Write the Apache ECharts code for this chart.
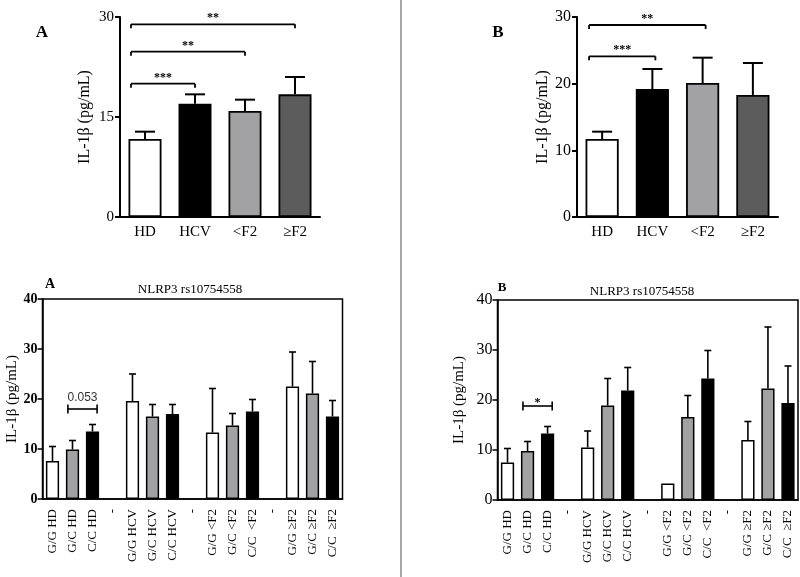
<!DOCTYPE html>
<html><head><meta charset="utf-8">
<script src="https://cdn.jsdelivr.net/npm/echarts@6/dist/echarts.min.js"></script>
<style>html,body{margin:0;padding:0;background:#fff}#c{width:800px;height:577px}</style>
</head><body><div id="c"></div>
<script>
// ---------- data ----------
const topCats = ['HD', 'HCV', '<F2', '≥F2'];
const topAMeans = [11.7, 17.0, 15.9, 18.4];
const topASem   = [1.1, 1.4, 1.7, 2.6];
const topBMeans = [11.7, 19.2, 20.1, 18.3];
const topBSem   = [1.1, 3.0, 3.8, 4.8];
const topABrackets = [[0, 1, 20.0, '***'], [0, 2, 24.8, '**'], [0, 3, 28.9, '**']];
const topBBrackets = [[0, 1, 24.1, '***'], [0, 2, 28.8, '**']];

const botCats = ['G/G HD', 'G/C HD', 'C/C HD', '-',
  'G/G HCV', 'G/C HCV', 'C/C HCV', '-',
  'G/G <F2', 'G/C <F2', 'C/C  <F2', '-',
  'G/G ≥F2', 'G/C ≥F2', 'C/C  ≥F2'];
const botGeno = ['GG', 'GC', 'CC', null, 'GG', 'GC', 'CC', null, 'GG', 'GC', 'CC', null, 'GG', 'GC', 'CC'];
const botAMeans = [7.6, 9.9, 13.5, null, 19.6, 16.5, 17.0, null, 13.3, 14.7, 17.5, null, 22.5, 21.1, 16.5];
const botASem   = [2.9, 1.8, 1.4, null, 5.4, 2.4, 1.9, null, 8.8, 2.4, 2.4, null, 6.9, 6.4, 3.2];
const botBMeans = [7.5, 9.8, 13.3, null, 10.5, 18.9, 21.9, null, 3.3, 16.6, 24.3, null, 12.0, 22.3, 19.4];
const botBSem   = [2.8, 1.9, 1.4, null, 3.3, 5.4, 4.6, null, 0, 4.3, 5.6, null, 3.7, 12.3, 7.4];
const botABrackets = [[1, 2, 18.0, '0.053']];
const botBBrackets = [[1, 2, 18.8, '*']];

// ---------- styles ----------
const SERIF = '"Liberation Serif", "Times New Roman", serif';
const topColors = ['#ffffff', '#000000', '#a2a2a4', '#5c5c5c'];
const genoColors = { GG: '#ffffff', GC: '#a2a2a4', CC: '#000000' };

function barData(means, colorOf) {
  return means.map((m, i) => m == null ? '-' : { value: m, itemStyle: { color: colorOf(i) } });
}
function errData(means, sems) {
  const out = [];
  means.forEach((m, i) => { if (m != null && sems[i]) out.push([i, m, sems[i]]); });
  return out;
}
function errRender(capW, lw) {
  return function (params, api) {
    const x = api.value(0), m = api.value(1), s = api.value(2);
    const p0 = api.coord([x, m]), p1 = api.coord([x, m + s]);
    const st = { stroke: '#000', lineWidth: lw };
    return { type: 'group', children: [
      { type: 'line', shape: { x1: p0[0], y1: p0[1], x2: p1[0], y2: p1[1] }, style: st },
      { type: 'line', shape: { x1: p1[0] - capW / 2, y1: p1[1], x2: p1[0] + capW / 2, y2: p1[1] }, style: st }
    ] };
  };
}
function bracketRender(list, o) {
  return function (params, api) {
    const b = list[params.dataIndex];
    const band = api.size([1, 0])[0];
    const a = api.coord([b[0], b[2]]), c = api.coord([b[1], b[2]]);
    const x1 = a[0] + o.startOff * band, x2 = c[0] + o.endOff * band, y = a[1];
    const st = { stroke: '#000', lineWidth: o.lw };
    return { type: 'group', children: [
      { type: 'line', shape: { x1: x1, y1: y, x2: x2, y2: y }, style: st },
      { type: 'line', shape: { x1: x1, y1: y - o.up, x2: x1, y2: y + o.down }, style: st },
      { type: 'line', shape: { x1: x2, y1: y - o.up, x2: x2, y2: y + o.down }, style: st },
      { type: 'text', style: { x: (x1 + x2) / 2, y: y + o.labelDy, text: b[3], font: o.font,
        fill: o.color, align: 'center', verticalAlign: 'middle', textAlign: 'center', textVerticalAlign: 'middle' } }
    ] };
  };
}

const grids = [
  { left: 120, top: 17, width: 200, height: 200 },
  { left: 577, top: 17, width: 201, height: 200 },
  { left: 42.5, top: 299, width: 300, height: 200, show: true, borderColor: '#000', borderWidth: 1.5 },
  { left: 497.5, top: 300, width: 300.5, height: 200, show: true, borderColor: '#000', borderWidth: 1.5 }
];

function xAx(gi, data, o) {
  return {
    type: 'category', gridIndex: gi, data: data,
    axisLine: { lineStyle: { color: '#000', width: o.lw } },
    axisTick: { alignWithLabel: true, length: 5, lineStyle: { color: '#000', width: o.lw } },
    axisLabel: { color: '#000', fontFamily: SERIF, fontSize: o.fs, rotate: o.rotate || 0, margin: o.margin, interval: 0 },
    splitLine: { show: false }
  };
}
function yAx(gi, max, interval, o) {
  return {
    type: 'value', gridIndex: gi, min: 0, max: max, interval: interval,
    name: 'IL-1β (pg/mL)', nameLocation: 'middle', nameGap: o.nameGap,
    nameTextStyle: { color: '#000', fontFamily: SERIF, fontSize: o.nameFs, fontWeight: o.nameW || 'normal' },
    axisLine: { show: true, lineStyle: { color: '#000', width: o.lw } },
    axisTick: { show: true, length: 5, lineStyle: { color: '#000', width: o.lw } },
    axisLabel: { color: '#000', fontFamily: SERIF, fontSize: o.fs, fontWeight: o.fw || 'normal', margin: o.margin },
    splitLine: { show: false }
  };
}

const option = {
  animation: false,
  backgroundColor: '#fff',
  grid: grids,
  xAxis: [
    xAx(0, topCats, { lw: 2, fs: 15, margin: 8 }),
    xAx(1, topCats, { lw: 2, fs: 15, margin: 8 }),
    xAx(2, botCats, { lw: 1.5, fs: 13, rotate: 90, margin: 10 }),
    xAx(3, botCats, { lw: 1.5, fs: 13, rotate: 90, margin: 10 })
  ],
  yAxis: [
    yAx(0, 30, 15, { lw: 2, fs: 15, margin: 6, nameGap: 27, nameFs: 16 }),
    yAx(1, 30, 10, { lw: 2, fs: 16, margin: 6, nameGap: 26, nameFs: 16 }),
    yAx(2, 40, 10, { lw: 1.5, fs: 14, fw: 'bold', margin: 5, nameGap: 19, nameFs: 15 }),
    yAx(3, 40, 10, { lw: 1.5, fs: 16, margin: 5, nameGap: 31, nameFs: 15 })
  ],
  series: [
    { type: 'bar', xAxisIndex: 0, yAxisIndex: 0, barWidth: '66%',
      itemStyle: { borderColor: '#000', borderWidth: 1.8 },
      data: barData(topAMeans, i => topColors[i]) },
    { type: 'bar', xAxisIndex: 1, yAxisIndex: 1, barWidth: '66%',
      itemStyle: { borderColor: '#000', borderWidth: 1.8 },
      data: barData(topBMeans, i => topColors[i]) },
    { type: 'bar', xAxisIndex: 2, yAxisIndex: 2, barWidth: '66%',
      itemStyle: { borderColor: '#000', borderWidth: 1.5 },
      data: barData(botAMeans, i => genoColors[botGeno[i]]) },
    { type: 'bar', xAxisIndex: 3, yAxisIndex: 3, barWidth: '66%',
      itemStyle: { borderColor: '#000', borderWidth: 1.5 },
      data: barData(botBMeans, i => genoColors[botGeno[i]]) },
    { type: 'custom', xAxisIndex: 0, yAxisIndex: 0, z: 5, renderItem: errRender(20, 2), data: errData(topAMeans, topASem) },
    { type: 'custom', xAxisIndex: 1, yAxisIndex: 1, z: 5, renderItem: errRender(20, 2), data: errData(topBMeans, topBSem) },
    { type: 'custom', xAxisIndex: 2, yAxisIndex: 2, z: 5, renderItem: errRender(7, 1.6), data: errData(botAMeans, botASem) },
    { type: 'custom', xAxisIndex: 3, yAxisIndex: 3, z: 5, renderItem: errRender(7, 1.6), data: errData(botBMeans, botBSem) },
    { type: 'custom', xAxisIndex: 0, yAxisIndex: 0, z: 6,
      renderItem: bracketRender(topABrackets, { startOff: -0.28, endOff: 0, up: 0, down: 4, lw: 1.8, labelDy: -6, font: 'bold 12px ' + SERIF, color: '#000' }),
      data: topABrackets.map(b => [b[0], b[2]]) },
    { type: 'custom', xAxisIndex: 1, yAxisIndex: 1, z: 6,
      renderItem: bracketRender(topBBrackets, { startOff: -0.26, endOff: 0.06, up: 0, down: 4, lw: 1.8, labelDy: -6, font: 'bold 12px ' + SERIF, color: '#000' }),
      data: topBBrackets.map(b => [b[0], b[2]]) },
    { type: 'custom', xAxisIndex: 2, yAxisIndex: 2, z: 6,
      renderItem: bracketRender(botABrackets, { startOff: -0.23, endOff: 0.23, up: 4.5, down: 4.5, lw: 1.6, labelDy: -11, font: '12px "Liberation Sans", Arial, sans-serif', color: '#333' }),
      data: botABrackets.map(b => [b[0], b[2]]) },
    { type: 'custom', xAxisIndex: 3, yAxisIndex: 3, z: 6,
      renderItem: bracketRender(botBBrackets, { startOff: -0.23, endOff: 0.23, up: 4.5, down: 4.5, lw: 1.6, labelDy: -3, font: 'bold 12px ' + SERIF, color: '#000' }),
      data: botBBrackets.map(b => [b[0], b[2]]) }
  ],
  graphic: [
    { type: 'line', shape: { x1: 401, y1: 0, x2: 401, y2: 577 }, style: { stroke: '#8a8a8a', lineWidth: 1.5 } },
    { type: 'text', x: 42, y: 33, style: { text: 'A', font: 'bold 17px ' + SERIF, fill: '#000', align: 'center', verticalAlign: 'middle', textAlign: 'center', textVerticalAlign: 'middle' } },
    { type: 'text', x: 498, y: 33, style: { text: 'B', font: 'bold 17px ' + SERIF, fill: '#000', align: 'center', verticalAlign: 'middle', textAlign: 'center', textVerticalAlign: 'middle' } },
    { type: 'text', x: 50, y: 284, style: { text: 'A', font: 'bold 14px ' + SERIF, fill: '#000', align: 'center', verticalAlign: 'middle', textAlign: 'center', textVerticalAlign: 'middle' } },
    { type: 'text', x: 502, y: 288, style: { text: 'B', font: 'bold 13px ' + SERIF, fill: '#000', align: 'center', verticalAlign: 'middle', textAlign: 'center', textVerticalAlign: 'middle' } },
    { type: 'text', x: 190, y: 290, style: { text: 'NLRP3 rs10754558', font: '13px ' + SERIF, fill: '#000', align: 'center', verticalAlign: 'middle', textAlign: 'center', textVerticalAlign: 'middle' } },
    { type: 'text', x: 642, y: 292, style: { text: 'NLRP3 rs10754558', font: '13px ' + SERIF, fill: '#000', align: 'center', verticalAlign: 'middle', textAlign: 'center', textVerticalAlign: 'middle' } }
  ]
};
const chart = echarts.init(document.getElementById('c'), null, { renderer: 'canvas' });
chart.setOption(option);
</script>
</body></html>
